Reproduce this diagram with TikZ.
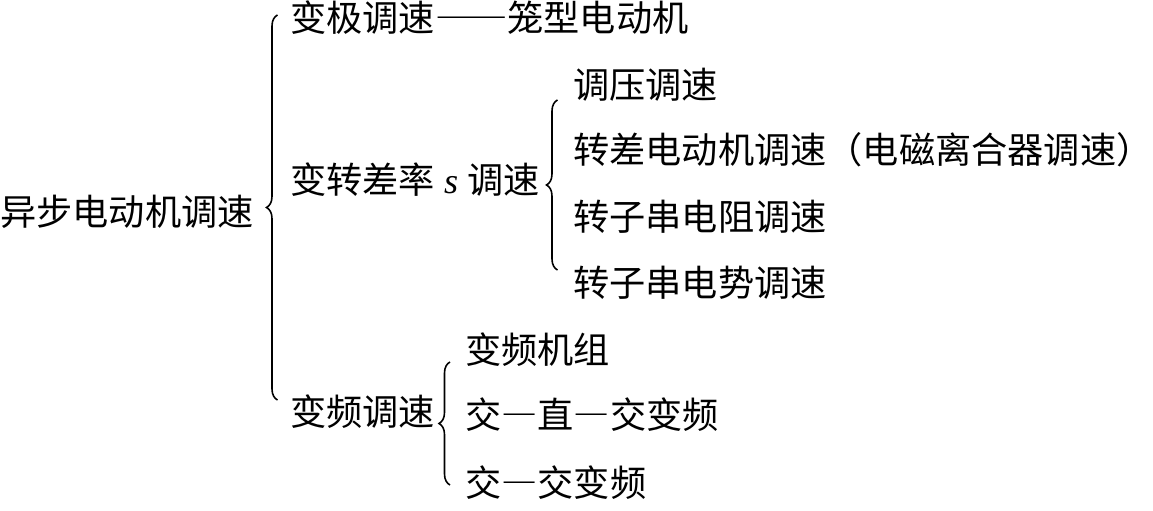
\documentclass[tikz,border=0pt]{standalone}
\usepackage{fontspec}
\setmainfont{Noto Sans CJK SC}
\newfontfamily\latinserif{Liberation Serif}
\newcommand\fwdash{{\addfontfeature{RawFeature=+fwid}—}}
\usetikzlibrary{decorations.pathreplacing}
\tikzset{
  item/.style={anchor=west,inner sep=0pt},
  bracket/.style={decorate,decoration={brace,amplitude=0.22cm},line width=.9pt},
}
\begin{document}
\begin{tikzpicture}[x=1cm,y=1cm,font=\fontsize{20.6}{24}\selectfont]
\useasboundingbox (0,0) rectangle (23.06,10.22);
% root
\node[item] (root) at (0.00,5.98) {异步电动机调速};
\coordinate (bigtop) at (5.55,9.92);
\coordinate (bigbot) at (5.55,2.22);
\draw[bracket] (bigbot) -- (bigtop);
% first level
\node[item] (pole) at (5.80,9.86) {变极调速\fwdash\fwdash 笼型电动机};
\node[item] (slip) at (5.80,6.62) {变转差率\hspace{.25em}{\latinserif\itshape s}\hspace{.25em}调速};
\node[item] (freq) at (5.80,1.98) {变频调速};
% slip branch
\coordinate (sliptop) at (11.15,8.22);
\coordinate (slipbot) at (11.15,4.82);
\draw[bracket] (slipbot) -- (sliptop);
\node[item] (volt) at (11.46,8.52) {调压调速};
\node[item] (eddy) at (11.46,7.22) {转差电动机调速（电磁离合器调速）};
\node[item] (resis) at (11.46,5.88) {转子串电阻调速};
\node[item] (emf) at (11.46,4.56) {转子串电势调速};
% frequency branch
\coordinate (freqtop) at (9.00,2.98);
\coordinate (freqbot) at (9.00,0.52);
\draw[bracket] (freqbot) -- (freqtop);
\node[item] (set) at (9.30,3.22) {变频机组};
\node[item] (acdc) at (9.30,1.92) {交\fwdash 直\fwdash 交变频};
\node[item] (acac) at (9.30,0.56) {交\fwdash 交变频};
\end{tikzpicture}
\end{document}
